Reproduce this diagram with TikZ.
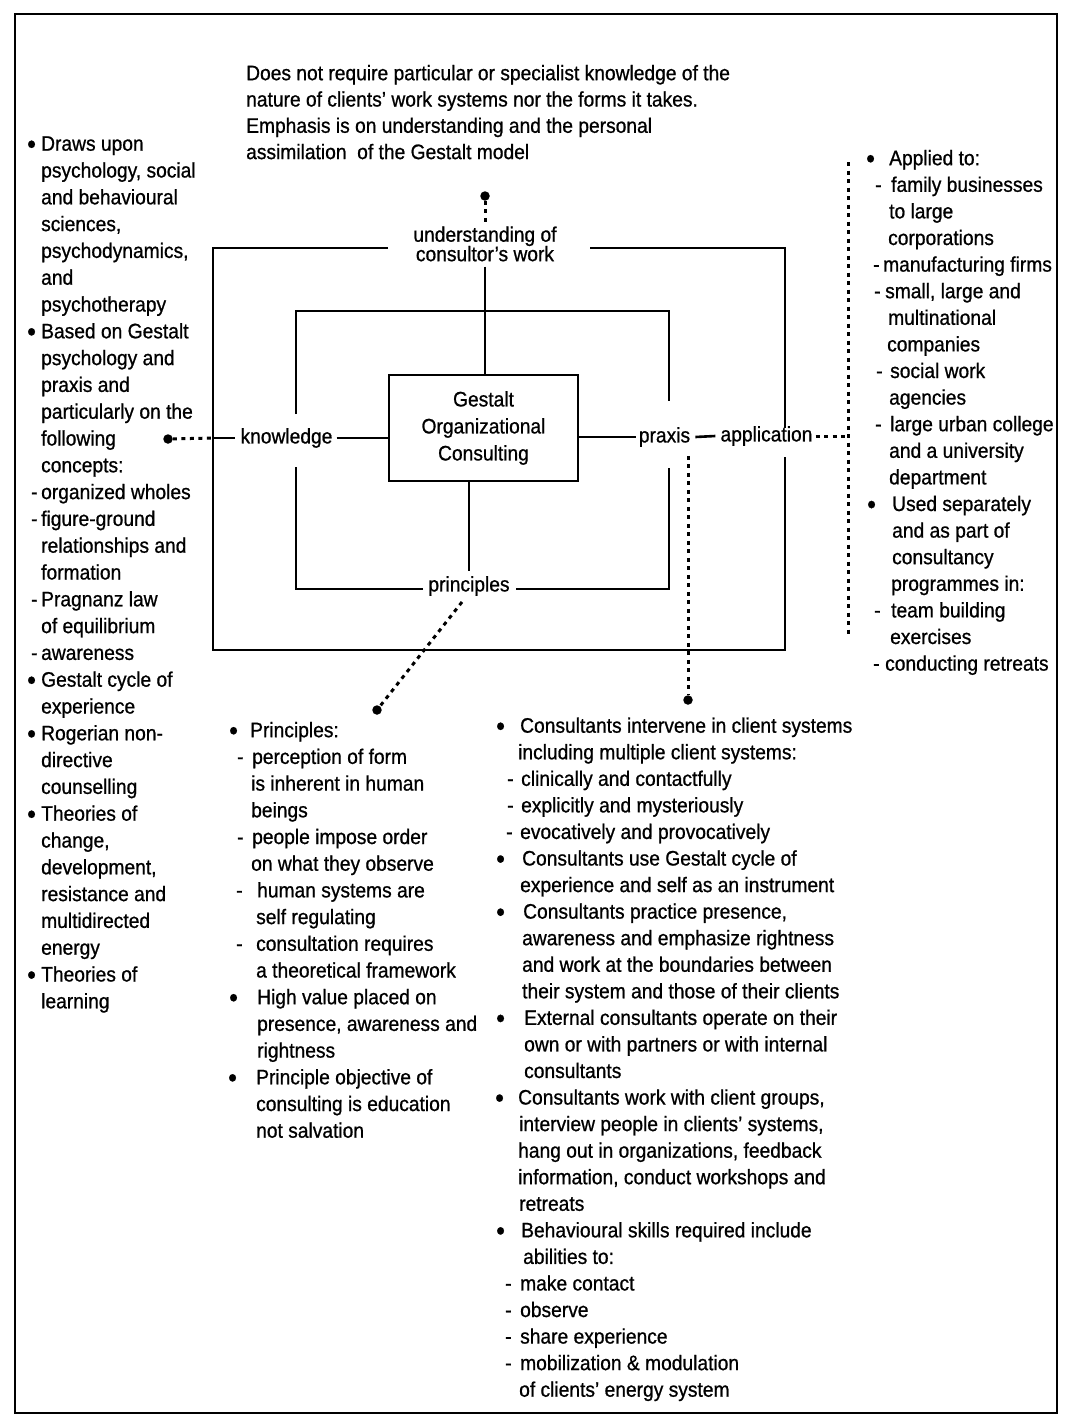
\documentclass[tikz,border=0pt]{standalone}
\usepackage{fontspec}
\setmainfont{Liberation Sans}[FakeStretch=0.915,FakeBold=0.8]
\newcommand\Lm[3]{\makebox[0pt][l]{\hspace*{#1pt}#2}\hspace*{#3pt}}
\newcommand\Ind[1]{\hspace*{#1pt}}
\newcommand\Top{\rule{0pt}{15.5pt}}
\newcommand\bu{\raisebox{-2.6pt}{\scalebox{1.3}{•}}}
\newcommand\tightls{\lineskiplimit-30pt\relax}
\begin{document}
\begin{tikzpicture}[x=1pt,y=-1pt,
  txt/.style={inner sep=0pt, anchor=north west, align=left},
  lab/.style={inner sep=0pt, font=\fontsize{21}{24}\selectfont},
  ln/.style={line width=2.6pt},
  frm/.style={line width=2.8pt},
  dotl/.style={line width=3pt, dash pattern=on 4pt off 4.5pt},
  bigdot/.style={circle, fill=black, inner sep=0pt, minimum size=9.5pt}
]
\useasboundingbox (0,0) rectangle (1068,1422);
\fill[white] (0,0) rectangle (1068,1422);
% frame
\draw[frm] (15,14) rectangle (1057,1413);

% top text
\node[txt, font=\fontsize{21}{26.3}\selectfont] (ttxt) at (246,64.5) {%
\Top Does not require particular or specialist knowledge of the\\
nature of clients' work systems nor the forms it takes.\\
Emphasis is on understanding and the personal\\
assimilation\ \ of the Gestalt model};

% left column
\node[txt, font=\fontsize{21}{26.8}\selectfont] (lcol) at (26,135) {%
\Top\Lm{1}{\bu}{15}Draws upon\\
\Ind{15}psychology, social\\
\Ind{15}and behavioural\\
\Ind{15}sciences,\\
\Ind{15}psychodynamics,\\
\Ind{15}and\\
\Ind{15}psychotherapy\\
\Lm{1}{\bu}{15}Based on Gestalt\\
\Ind{15}psychology and\\
\Ind{15}praxis and\\
\Ind{15}particularly on the\\
\Ind{15}following\\
\Ind{15}concepts:\\
\Lm{5}{-}{15}organized wholes\\
\Lm{5}{-}{15}figure-ground\\
\Ind{15}relationships and\\
\Ind{15}formation\\
\Lm{5}{-}{15}Pragnanz law\\
\Ind{15}of equilibrium\\
\Lm{5}{-}{15}awareness\\
\Lm{1}{\bu}{15}Gestalt cycle of\\
\Ind{15}experience\\
\Lm{1}{\bu}{15}Rogerian non-\\
\Ind{15}directive\\
\Ind{15}counselling\\
\Lm{1}{\bu}{15}Theories of\\
\Ind{15}change,\\
\Ind{15}development,\\
\Ind{15}resistance and\\
\Ind{15}multidirected\\
\Ind{15}energy\\
\Lm{1}{\bu}{15}Theories of\\
\Ind{15}learning};

% right column
\node[txt, font=\fontsize{21}{26.6}\selectfont] (rcol) at (862,149.5) {%
\Top\Lm{4}{\bu}{27}Applied to:\\
\Lm{13}{-}{29}family businesses\\
\Ind{27}to large\\
\Ind{26}corporations\\
\Lm{11}{-}{21}manufacturing firms\\
\Lm{12}{-}{23}small, large and\\
\Ind{26}multinational\\
\Ind{25}companies\\
\Lm{14}{-}{28}social work\\
\Ind{27}agencies\\
\Lm{13}{-}{28}large urban college\\
\Ind{27}and a university\\
\Ind{27}department\\
\Lm{5}{\bu}{30}Used separately\\
\Ind{30}and as part of\\
\Ind{30}consultancy\\
\Ind{29}programmes in:\\
\Lm{12}{-}{29}team building\\
\Ind{28}exercises\\
\Lm{11}{-}{23}conducting retreats};

% principles column
\node[txt, font=\fontsize{21}{26.7}\selectfont] (pcol) at (225,721.5) {%
\Top\Lm{4}{\bu}{25}Principles:\\
\Lm{12}{-}{27}perception of form\\
\Ind{26}is inherent in human\\
\Ind{26}beings\\
\Lm{12}{-}{27}people impose order\\
\Ind{26}on what they observe\\
\Lm{11}{-}{32}human systems are\\
\Ind{31}self regulating\\
\Lm{11}{-}{31}consultation requires\\
\Ind{31}a theoretical framework\\
\Lm{4}{\bu}{32}High value placed on\\
\Ind{32}presence, awareness and\\
\Ind{32}rightness\\
\Lm{3}{\bu}{31}Principle objective of\\
\Ind{31}consulting is education\\
\Ind{31}not salvation};

% consultants column
\node[txt, font=\fontsize{21}{26.56}\selectfont] (ccol) at (490,717) {%
\Top\Lm{6}{\bu}{30}Consultants intervene in client systems\\
\Ind{28}including multiple client systems:\\
\Lm{17}{-}{31}clinically and contactfully\\
\Lm{17}{-}{31}explicitly and mysteriously\\
\Lm{16}{-}{30}evocatively and provocatively\\
\Lm{6}{\bu}{32}Consultants use Gestalt cycle of\\
\Ind{30}experience and self as an instrument\\
\Lm{6}{\bu}{33}Consultants practice presence,\\
\Ind{32}awareness and emphasize rightness\\
\Ind{32}and work at the boundaries between\\
\Ind{32}their system and those of their clients\\
\Lm{6}{\bu}{34}External consultants operate on their\\
\Ind{34}own or with partners or with internal\\
\Ind{34}consultants\\
\Lm{5}{\bu}{28}Consultants work with client groups,\\
\Ind{29}interview people in clients' systems,\\
\Ind{28}hang out in organizations, feedback\\
\Ind{28}information, conduct workshops and\\
\Ind{29}retreats\\
\Lm{6}{\bu}{31}Behavioural skills required include\\
\Ind{33}abilities to:\\
\Lm{15}{-}{30}make contact\\
\Lm{15}{-}{30}observe\\
\Lm{15}{-}{30}share experience\\
\Lm{15}{-}{30}mobilization \& modulation\\
\Ind{29}of clients' energy system};

% central diagram
\node[draw, ln, minimum width=189pt, minimum height=106pt, inner sep=0pt, align=center,
      font=\fontsize{21}{27}\selectfont] (gbox) at (483.5,428) {Gestalt\\Organizational\\Consulting};
\node[lab, align=center, anchor=north, font=\fontsize{21}{19.5}\selectfont\tightls]
      (lbl) at (485,226) {\Top understanding of\\consultor's work};
\node[lab] (know) at (286.5,438) {knowledge};
\node[lab] (prax) at (664.5,437) {praxis};
\node[lab] (appl) at (766.5,436) {application};
\node[lab] (princ) at (469,586) {principles};

\node[bigdot] (tdot) at (485,196) {};
\node[bigdot] (ldot) at (168,439) {};
\node[bigdot] (pdot) at (377,710) {};
\node[bigdot] (xdot) at (688,700) {};

\coordinate (okl) at (213,438);
\coordinate (rline) at (848,436);
\coordinate (rtop) at (848,162);
\coordinate (rbot) at (848,635);

% brackets
\draw[ln] (388,248) -- (213,248) -- (213,650) -- (785,650) -- (785,457);
\draw[ln] (785,428) -- (785,248) -- (590,248);
\draw[ln] (296,414) -- (296,311) -- (669,311) -- (669,401);
\draw[ln] (669,468) -- (669,589) -- (516,589);
\draw[ln] (423,589) -- (296,589) -- (296,467);

% connectors
\draw[ln] ([xshift=4pt]know.east) -- (know.east -| gbox.west);
\draw[ln] (gbox.east |- prax.west) -- ([xshift=-3pt]prax.west);
\draw[ln] ([xshift=5pt]prax.east) -- ([xshift=-5pt]appl.west);
\draw[dotl] ([xshift=3pt]appl.east) -- (rline);
\draw[dotl] (ldot) -- (okl);
\draw[ln] (okl) -- ([xshift=-5pt]know.west);
\draw[dotl] (tdot) -- ([yshift=1pt]lbl.north);
\draw[ln] ([yshift=-5pt]lbl.south) -- (lbl.south |- gbox.north);
\draw[ln] (princ.north |- gbox.south) -- ([yshift=5pt]princ.north);
\draw[dotl] ([xshift=-7pt,yshift=-6pt]princ.south) -- (pdot);
\draw[dotl] (xdot |- prax.south) ++(0,9) -- (xdot);
\draw[dotl] (rtop) -- (rbot);
\end{tikzpicture}
\end{document}
